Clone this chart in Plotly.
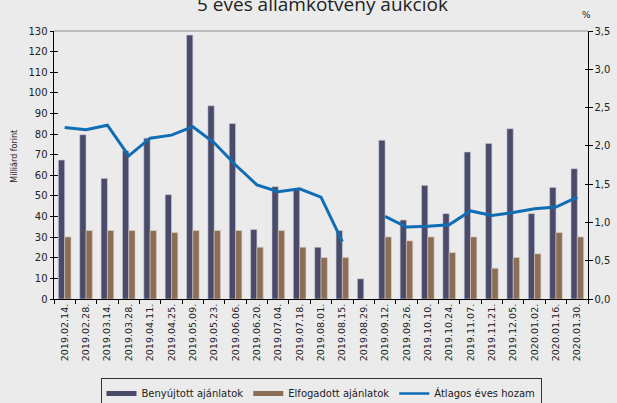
import plotly.graph_objects as go

dates = ["2019.02.14.", "2019.02.28.", "2019.03.14.", "2019.03.28.", "2019.04.11.",
         "2019.04.25.", "2019.05.09.", "2019.05.23.", "2019.06.06.", "2019.06.20.",
         "2019.07.04.", "2019.07.18.", "2019.08.01.", "2019.08.15.", "2019.08.29.",
         "2019.09.12.", "2019.09.26.", "2019.10.10.", "2019.10.24.", "2019.11.07.",
         "2019.11.21.", "2019.12.05.", "2020.01.02.", "2020.01.16.", "2020.01.30."]

benyujtott = [67.4, 79.7, 58.5, 71.9, 78.0, 50.6, 128.0, 93.7, 85.1, 33.7,
              54.5, 53.0, 25.1, 33.2, 9.8, 77.0, 38.3, 55.1, 41.4, 71.3,
              75.4, 82.6, 41.4, 54.1, 63.2]

elfogadott = [30.1, 33.2, 33.2, 33.2, 33.2, 32.2, 33.2, 33.2, 33.2, 25.1,
              33.2, 25.1, 20.1, 20.1, None, 30.1, 28.2, 30.1, 22.5, 30.1,
              14.9, 20.1, 21.9, 32.2, 30.1]

hozam = [2.24, 2.21, 2.27, 1.87, 2.10, 2.14, 2.25, 2.04, 1.75, 1.49,
         1.40, 1.44, 1.33, 0.75, None, 1.08, 0.94, 0.95, 0.97, 1.15,
         1.09, 1.13, 1.18, 1.20, 1.33]

C_BLUE = "#4a4a6b"
C_BROWN = "#8c6d55"
C_LINE = "#0e6db4"
FONT = "DejaVu Sans"

fig = go.Figure()
fig.add_trace(go.Bar(x=dates, y=benyujtott, name="Benyújtott ajánlatok",
                     marker=dict(color=C_BLUE, line=dict(color="#c9c9d6", width=0.6)),
                     showlegend=False))
fig.add_trace(go.Bar(x=dates, y=elfogadott, name="Elfogadott ajánlatok",
                     marker=dict(color=C_BROWN, line=dict(color="#d8cbbf", width=0.6)),
                     showlegend=False))
fig.add_trace(go.Scatter(x=dates, y=hozam, name="Átlagos éves hozam", yaxis="y2",
                         mode="lines", line=dict(color=C_LINE, width=3),
                         connectgaps=False, showlegend=False))
# legend entries (wide swatches like the original)
fig.add_trace(go.Scatter(x=[None], y=[None], name="Benyújtott ajánlatok", mode="lines",
                         line=dict(color=C_BLUE, width=5), yaxis="y3"))
fig.add_trace(go.Scatter(x=[None], y=[None], name="Elfogadott ajánlatok", mode="lines",
                         line=dict(color=C_BROWN, width=5), yaxis="y4"))
fig.add_trace(go.Scatter(x=[None], y=[None], name="Átlagos éves hozam", mode="lines",
                         line=dict(color=C_LINE, width=2.5)))

common_y = dict(showgrid=False, zeroline=False, automargin=False)
fig.update_layout(
    width=617, height=403,
    margin=dict(l=54, r=29, t=31, b=103.5),
    paper_bgcolor="#ebebeb", plot_bgcolor="#ebebeb",
    font=dict(family=FONT, size=10, color="#222222"),
    separators=", ",
    barmode="group", bargap=0.41, bargroupgap=0,
    xaxis=dict(type="category", tickangle=-90, tickson="boundaries",
               ticks="outside", ticklen=4, tickcolor="#000", showline=True,
               linecolor="#000", linewidth=1, showgrid=False, automargin=False,
               tickfont=dict(size=9.5, family=FONT)),
    yaxis=dict(range=[0, 130], dtick=10, ticks="outside", ticklen=3.5,
               tickcolor="#000", showline=True, linecolor="#000", linewidth=1,
               tickfont=dict(size=10), **common_y),
    yaxis2=dict(range=[0, 3.5], dtick=0.5, tickformat=".1f", overlaying="y",
                side="right", ticks="outside", ticklen=3.5, tickcolor="#000",
                showline=True, linecolor="#000", linewidth=1,
                tickfont=dict(size=10), **common_y),
    yaxis3=dict(range=[0, 130], dtick=10, overlaying="y", side="left",
                ticks="inside", ticklen=3.5, tickcolor="#000", showline=False,
                showticklabels=False, **common_y),
    yaxis4=dict(range=[0, 3.5], dtick=0.5, overlaying="y", side="right",
                ticks="inside", ticklen=3.5, tickcolor="#000", showline=False,
                showticklabels=False, **common_y),
    legend=dict(orientation="h", x=0.5, xanchor="center", yref="container",
                y=0.062, yanchor="top",
                bgcolor="#ebebeb", bordercolor="#333333", borderwidth=1,
                font=dict(size=10, family=FONT), itemwidth=30, traceorder="normal"),
    shapes=[dict(type="line", xref="paper", yref="paper", x0=0, x1=1, y0=1, y1=1,
                 line=dict(color="#8a8a8a", width=1))],
    annotations=[
        dict(text="5 éves államkötvény aukciók", xref="paper", yref="paper",
             x=0.502, y=1.1, xanchor="center", yanchor="middle", showarrow=False,
             font=dict(family="Open Sans", size=19, color="#222")),
        dict(text="%", xref="paper", yref="paper", x=0.998, y=1.06,
             xanchor="center", yanchor="middle", showarrow=False,
             font=dict(size=9)),
        dict(text="Milliárd forint", xref="paper", yref="paper", x=-0.073, y=0.531,
             xanchor="center", yanchor="middle", textangle=-90, showarrow=False,
             font=dict(size=8)),
    ],
)

fig.write_html(
    "out.html",
    config={"displayModeBar": False},
    post_script="document.body.style.margin='0';document.body.style.background='#ebebeb';",
)
